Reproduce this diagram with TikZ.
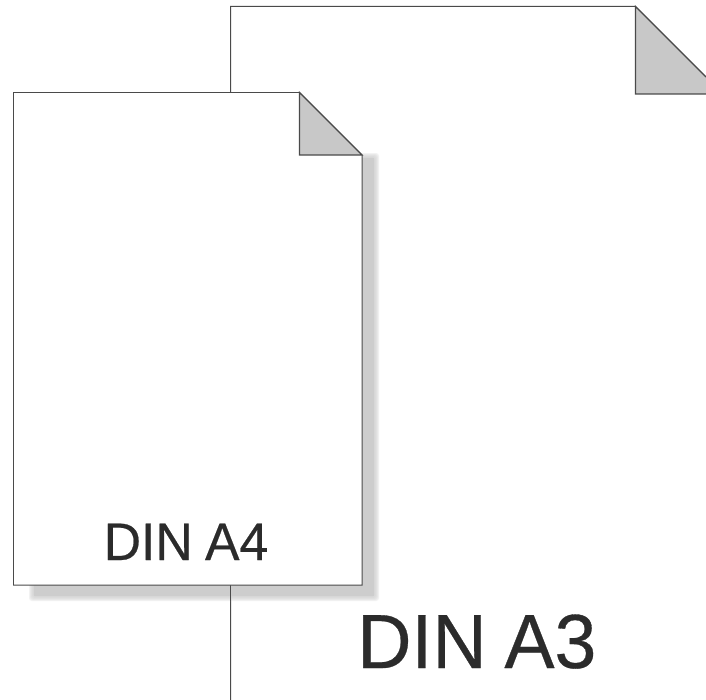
\documentclass[tikz,border=0pt]{standalone}
\usepackage{fontspec}
\setmainfont{Liberation Sans}
\newfontfamily\labelfont[FakeStretch=0.98,FakeBold=0.4,WordSpace=0.85]{Liberation Sans}
\definecolor{edge}{HTML}{4A4A4A}
\definecolor{foldgray}{HTML}{C8C8C8}
\definecolor{shadowgray}{HTML}{CDCDCD}
\definecolor{inkdark}{HTML}{2B2B2B}
\tikzset{
  sheet/.style={draw=edge,line width=1pt,fill=white,line join=miter},
  foldpart/.style={draw=edge,line width=1.2pt,fill=foldgray,line join=miter},
  blurlayer/.style={fill=shadowgray,opacity=0.25,rounded corners=3pt},
  label/.style={text=inkdark,inner sep=0pt,anchor=base west}
}
\begin{document}
\begin{tikzpicture}[x=1bp,y=-1bp]
\useasboundingbox (0,0) rectangle (706,700);
\fill[white] (0,0) rectangle (706,700);
% A3 sheet (runs off the right and bottom of the picture)
\begin{scope}
\clip (0,0) rectangle (706,700);
\draw[sheet] (230.5,710) -- (230.5,6.5) -- (635.5,6.5) -- (720,91);
\fill[foldgray] (635.5,6.5) -- (706,77) -- (706,94) -- (635.5,94) -- cycle;
\draw[edge,line width=1.2pt] (706,77) -- (635.5,6.5) -- (635.5,94) -- (706,94);
\end{scope}
% shadow of the A4 sheet
\fill[blurlayer] (33,157) rectangle (375,597);
\fill[blurlayer] (32,156) rectangle (376,598);
\fill[blurlayer] (31,155) rectangle (377,599);
\fill[blurlayer] (30,154) rectangle (378,600);
\fill[blurlayer] (29,153) rectangle (379,601);
\fill[shadowgray] (34,158) rectangle (374,596);
% A3 edge stays visible across the shadow
\draw[edge,line width=1pt] (230.5,585) -- (230.5,601);
% A4 sheet
\draw[sheet] (13.5,92.5) -- (299.5,92.5) -- (362,155) -- (362,585) -- (13.5,585) -- cycle;
\draw[foldpart] (299.5,92.5) -- (362,155) -- (299.5,155) -- cycle;
\node[label,font=\labelfont\fontsize{53}{53}\selectfont] (a4) at (103.5,560) {DIN A4};
\node[label,font=\labelfont\fontsize{77}{77}\selectfont] (a3) at (357,668) {DIN A3};
\end{tikzpicture}
\end{document}
